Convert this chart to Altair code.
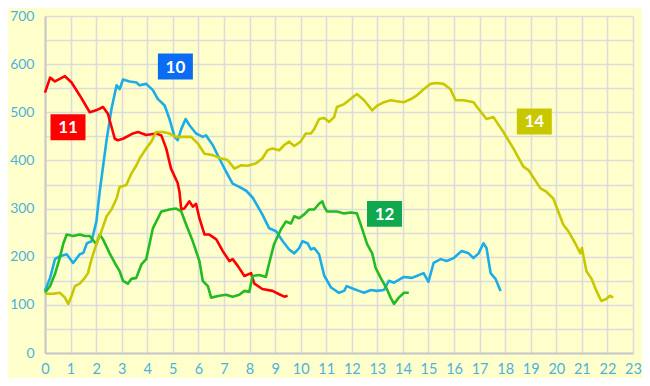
import altair as alt
import pandas as pd

# ---- data ----
red_x = [0, 0.2, 0.39, 0.78, 1.04, 1.36, 1.75, 2.0, 2.27, 2.46, 2.73, 2.85, 3.05, 3.44, 3.64, 3.96, 4.35, 4.55, 4.74, 4.93, 5.19, 5.26, 5.33, 5.45, 5.65, 5.78, 5.91, 6.04, 6.24, 6.43, 6.7, 6.95, 7.21, 7.34, 7.54, 7.8, 8.06, 8.19, 8.5, 8.9, 9.16, 9.36, 9.49]
red_y = [541, 572, 564, 575, 562, 535, 500, 504, 511, 497, 445, 442, 445, 456, 459, 453, 456, 452, 425, 383, 353, 335, 298, 300, 315, 304, 310, 280, 246, 246, 236, 212, 191, 195, 181, 160, 166, 144, 133, 129, 122, 117, 119]

blue_x = [0, 0.2, 0.39, 0.58, 0.85, 1.1, 1.36, 1.5, 1.64, 1.82, 2.01, 2.14, 2.4, 2.6, 2.8, 2.92, 3.05, 3.31, 3.58, 3.7, 3.96, 4.22, 4.41, 4.68, 4.87, 5.07, 5.19, 5.33, 5.5, 5.65, 5.91, 6.17, 6.3, 6.56, 6.82, 7.08, 7.34, 7.6, 7.87, 8.12, 8.5, 8.77, 9.04, 9.3, 9.55, 9.75, 9.94, 10.07, 10.27, 10.4, 10.53, 10.72, 10.92, 11.19, 11.5, 11.7, 11.8, 12.08, 12.28, 12.48, 12.75, 12.98, 13.26, 13.45, 13.65, 14.04, 14.35, 14.54, 14.81, 15.0, 15.2, 15.48, 15.71, 15.98, 16.3, 16.57, 16.76, 16.96, 17.15, 17.27, 17.43, 17.62, 17.82]
blue_y = [129, 156, 195, 201, 205, 187, 205, 208, 228, 232, 273, 335, 439, 507, 556, 548, 568, 564, 562, 556, 559, 546, 528, 514, 486, 449, 442, 465, 486, 473, 456, 449, 452, 432, 404, 377, 352, 345, 337, 323, 288, 259, 253, 232, 215, 207, 218, 232, 228, 215, 218, 205, 161, 136, 125, 129, 139, 133, 129, 125, 131, 129, 131, 150, 146, 158, 156, 160, 166, 148, 187, 195, 191, 197, 212, 207, 197, 207, 228, 218, 166, 154, 129]

green_x = [0, 0.2, 0.39, 0.58, 0.72, 0.85, 1.1, 1.36, 1.56, 1.75, 2.01, 2.14, 2.27, 2.53, 2.73, 2.92, 3.05, 3.24, 3.38, 3.57, 3.77, 3.96, 4.22, 4.55, 4.87, 5.13, 5.33, 5.52, 5.78, 6.04, 6.17, 6.37, 6.5, 6.82, 7.08, 7.34, 7.6, 7.8, 7.99, 8.12, 8.38, 8.64, 8.77, 8.96, 9.23, 9.42, 9.62, 9.75, 9.94, 10.14, 10.33, 10.53, 10.72, 10.85, 10.92, 11.03, 11.42, 11.7, 11.97, 12.2, 12.4, 12.6, 12.8, 12.93, 13.13, 13.37, 13.52, 13.65, 13.84, 14.04, 14.23]
green_y = [125, 139, 164, 198, 228, 246, 243, 246, 243, 243, 226, 246, 236, 207, 187, 170, 150, 144, 154, 156, 184, 195, 259, 294, 298, 300, 294, 267, 232, 191, 150, 139, 115, 119, 121, 117, 121, 129, 127, 160, 162, 158, 187, 226, 257, 273, 269, 284, 280, 288, 298, 298, 310, 315, 304, 294, 294, 290, 292, 290, 259, 226, 207, 177, 156, 133, 115, 102, 115, 125, 125]

yellow_x = [0, 0.32, 0.58, 0.78, 0.91, 1.04, 1.17, 1.36, 1.56, 1.68, 1.82, 2.01, 2.21, 2.41, 2.6, 2.8, 2.92, 3.18, 3.38, 3.58, 3.7, 3.96, 4.16, 4.35, 4.61, 4.87, 5.13, 5.4, 5.72, 5.98, 6.24, 6.56, 6.89, 7.14, 7.41, 7.67, 7.93, 8.26, 8.5, 8.7, 8.9, 9.16, 9.36, 9.55, 9.75, 10.0, 10.2, 10.4, 10.53, 10.72, 10.92, 11.11, 11.31, 11.42, 11.7, 11.89, 12.2, 12.48, 12.8, 13.0, 13.26, 13.52, 13.76, 14.04, 14.3, 14.54, 14.81, 15.08, 15.32, 15.59, 15.86, 16.06, 16.37, 16.76, 16.96, 17.27, 17.54, 17.93, 18.32, 18.71, 18.91, 19.38, 19.61, 19.88, 20.27, 20.47, 20.74, 20.94, 21.0, 21.18, 21.38, 21.57, 21.76, 21.95, 22.1, 22.22]
yellow_y = [123, 123, 125, 115, 102, 119, 139, 144, 156, 166, 195, 226, 253, 284, 298, 321, 345, 349, 373, 390, 404, 425, 439, 459, 459, 456, 449, 449, 449, 435, 414, 411, 404, 401, 383, 390, 389, 394, 404, 421, 425, 421, 432, 439, 430, 439, 456, 456, 465, 486, 488, 480, 490, 511, 517, 525, 538, 525, 504, 514, 521, 525, 523, 521, 527, 535, 548, 559, 561, 559, 548, 525, 525, 521, 507, 486, 490, 459, 425, 387, 380, 342, 335, 321, 267, 253, 228, 207, 218, 170, 154, 129, 108, 112, 119, 115]

series_names = ["10", "11", "12", "14"]
line_colors = ["#1AADE6", "#FF0000", "#22BB22", "#C8C800"]
box_colors = ["#0A6CF2", "#FF0000", "#0FA84E", "#C8C800"]

label_text = ["10", "11", "12", "14"]
label_x = [5.1, 0.9, 13.28, 19.14]
label_y = [595, 469, 289, 481]

x_ticks = list(range(0, 24))
y_ticks = list(range(0, 701, 50))

# ---- build tables ----
rows = []
for name, xs, ys in [("10", blue_x, blue_y), ("11", red_x, red_y),
                     ("12", green_x, green_y), ("14", yellow_x, yellow_y)]:
    for i, (a, b) in enumerate(zip(xs, ys)):
        rows.append({"series": name, "x": a, "y": b, "i": i})
df = pd.DataFrame(rows)

lab = pd.DataFrame({"series": label_text, "x": label_x, "y": label_y})

axis_color = "#4DB1DE"
xscale = alt.Scale(domain=[0, 23], nice=False, zero=False)
yscale = alt.Scale(domain=[0, 700], nice=False)

xaxis = alt.Axis(values=x_ticks, title=None, grid=True, labelPadding=9,
                 labelFontSize=14.5, labelFlush=False, labelOverlap=False)
yaxis = alt.Axis(values=y_ticks, title=None, grid=True, labelPadding=11,
                 labelFontSize=14, labelOverlap=False, labelFlush=False,
                 labelExpr="datum.value % 100 == 0 ? datum.label : ''")

X = alt.X("x:Q", scale=xscale, axis=xaxis)
Y = alt.Y("y:Q", scale=yscale, axis=yaxis)

lines = alt.Chart(df).mark_line(strokeWidth=2.6, strokeJoin="round").encode(
    x=X, y=Y,
    color=alt.Color("series:N", scale=alt.Scale(domain=series_names, range=line_colors), legend=None),
    order="i:Q",
    detail="series:N",
)

rect_path = "M-1,-0.74 L1,-0.74 L1,0.74 L-1,0.74 Z"
boxes = alt.Chart(lab).mark_point(shape=rect_path, filled=True, opacity=1, size=1225, strokeWidth=0).encode(
    x=X, y=Y,
    fill=alt.Fill("series:N", scale=alt.Scale(domain=series_names, range=box_colors), legend=None),
)
texts = alt.Chart(lab).mark_text(color="white", font="Lato", fontSize=17, fontWeight="bold",
                                 align="center", baseline="middle", dy=1).encode(
    x=X, y=Y,
    text="series:N",
)

chart = alt.layer(lines, boxes, texts).resolve_scale(color="independent").properties(
    width=588, height=337,
    background="#FFFFCC",
    padding={"left": 37, "top": 8, "right": 9, "bottom": 25},
    autosize=alt.AutoSizeParams(type="none"),
).configure_view(stroke=None).configure_axis(
    gridColor="#DCDCDC", gridWidth=1.6, ticks=False,
    labelColor=axis_color, labelFont="Lato",
    domainColor="#C8C8C8", domainWidth=2,
    labelOverlap=False,
)

chart.save("out.html", embed_options={"renderer": "svg", "actions": False})
